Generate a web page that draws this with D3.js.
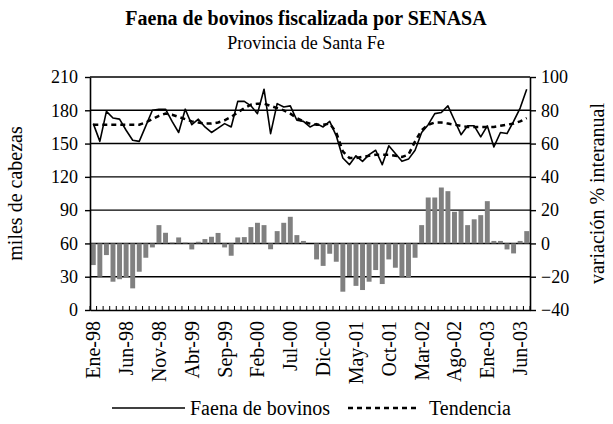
<!DOCTYPE html>
<html>
<head>
<meta charset="utf-8">
<script src="https://cdn.jsdelivr.net/npm/d3@7"></script>
<style>
  body { margin: 0; background: #fff; }
  svg text { font-family: "Liberation Serif", serif !important; fill: #000; }
</style>
</head>
<body>
<div id="chart"></div>
<script>
// meses Ene-98 .. Jul-03
const mesesAbr = ["Ene","Feb","Mar","Abr","May","Jun","Jul","Ago","Sep","Oct","Nov","Dic"];
const months = d3.range(67).map(i => mesesAbr[i % 12] + "-" + String((98 + Math.floor(i / 12)) % 100).padStart(2, "0"));
const tickLabels = ["Ene-98","Jun-98","Nov-98","Abr-99","Sep-99","Feb-00","Jul-00","Dic-00","May-01","Oct-01","Mar-02","Ago-02","Ene-03","Jun-03"];

// miles de cabezas
const faena = [168,152,179,173,172,162,153,152,166,180,181,181,170,160,181,167,172,165,160,164,
  168,165,188,188,184,177,199,159,186,183,184,171,170,165,168,165,170,157,137,131,
  139,134,140,144,131,148,141,134,136,144,160,167,177,178,184,171,158,166,166,156,
  166,147,160,159,170,182,199];
const tendencia = [167,167,167,167,167,167,167,167,169,172,175,177,176,174,172,170,169,168,168,169,
  171,174,178,182,185,186,186,184,182,180,177,173,170,168,167,167,168,160,143,137,
  137,138,139,140,140,140,139,138,140,152,162,167,169,169,168,167,166,165,165,165,
  165,165,166,167,168,170,173];
// variacion % interanual
const variacion = [-13,-20,-7,-23,-21.5,-20.5,-27,-17,-8.6,-2.4,11,6.4,0.5,3.6,0.5,-3.6,1,2.6,4,6.3,
  -2.4,-7.4,3.6,3.8,9.8,12.4,11,-3.5,7.4,12.4,16,5,1.5,0,-9.6,-13.5,-6.2,-11,-29,-19.6,
  -25.5,-28,-23,-16,-24.4,-9.6,-14.6,-20,-20.6,-8.6,11,27.6,27.6,33.6,31.4,19,19.5,11,14.5,17,
  25.4,1.5,1.5,-3.6,-6,1.5,7.4];

const width = 613, height = 424;
const mLeft = 90, mRight = 530, mTop = 77, mBottom = 310;
const serif = "'Liberation Serif', serif";

const svg = d3.select("#chart").append("svg")
  .attr("width", width)
  .attr("height", height)
  .attr("font-family", serif);

const x = d3.scaleBand().domain(months).range([mLeft, mRight]).paddingInner(0.25).paddingOuter(0.125);
const xc = d => x(d) + x.bandwidth() / 2;
const y = d3.scaleLinear().domain([0, 210]).range([mBottom, mTop]);
const y2 = d3.scaleLinear().domain([-40, 100]).range([mBottom, mTop]);

// gridlines
svg.append("g")
  .selectAll("line")
  .data(d3.range(30, 211, 30))
  .join("line")
  .attr("x1", mLeft).attr("x2", mRight)
  .attr("y1", d => y(d)).attr("y2", d => y(d))
  .attr("stroke", "#000").attr("stroke-width", 1.4);

// bars (variacion)
svg.append("g")
  .selectAll("rect")
  .data(variacion)
  .join("rect")
  .attr("x", (d, i) => x(months[i]))
  .attr("width", x.bandwidth())
  .attr("y", d => y2(Math.max(0, d)))
  .attr("height", d => Math.abs(y2(d) - y2(0)))
  .attr("fill", "#808080");

// axes
const yAxis = d3.axisLeft(y).tickValues(d3.range(0, 211, 30)).tickSize(5).tickSizeOuter(0);
const gy = svg.append("g").attr("transform", `translate(${mLeft},0)`).call(yAxis);
const y2Axis = d3.axisRight(y2).tickValues(d3.range(-40, 101, 20)).tickSize(6).tickSizeOuter(0);
const gy2 = svg.append("g").attr("transform", `translate(${mRight},0)`).call(y2Axis);
[gy, gy2].forEach(g => {
  g.attr("font-family", serif);
  g.select(".domain").attr("stroke-width", 1.6);
  g.selectAll(".tick line").attr("stroke-width", 1.4);
  g.selectAll(".tick text").attr("font-size", 18).style("font-family", serif);
});
gy.selectAll(".tick text").attr("x", -12);
gy2.selectAll(".tick text").attr("x", 11);

const xAxis = d3.axisBottom(x).tickSize(0).tickFormat(d => tickLabels.includes(d) ? d : "");
const gx = svg.append("g").attr("transform", `translate(0,${mBottom})`).call(xAxis);
gx.attr("font-family", serif);
gx.select(".domain").attr("stroke-width", 1.6);
gx.selectAll(".tick text")
  .attr("font-size", 20)
  .style("font-family", serif)
  .attr("transform", "rotate(-90)")
  .attr("text-anchor", "end")
  .attr("x", -11)
  .attr("y", 0)
  .attr("dy", "0.35em");

// small month ticks
svg.append("g")
  .selectAll("line")
  .data(d3.range(months.length + 1))
  .join("line")
  .attr("x1", i => mLeft + i * x.step()).attr("x2", i => mLeft + i * x.step())
  .attr("y1", mBottom - 4).attr("y2", mBottom + 1)
  .attr("stroke", "#000").attr("stroke-width", 1);

// lines
const line = d3.line().x((d, i) => xc(months[i])).y(d => y(d));
svg.append("path")
  .datum(tendencia)
  .attr("d", line)
  .attr("fill", "none")
  .attr("stroke", "#000")
  .attr("stroke-width", 2.5)
  .attr("stroke-dasharray", "5,4");
svg.append("path")
  .datum(faena)
  .attr("d", line)
  .attr("fill", "none")
  .attr("stroke", "#000")
  .attr("stroke-width", 1.6)
  .attr("stroke-linejoin", "round");

// titles
svg.append("text")
  .attr("x", 306).attr("y", 25)
  .attr("text-anchor", "middle")
  .attr("font-size", 20).attr("font-weight", "bold")
  .text("Faena de bovinos fiscalizada por SENASA");
svg.append("text")
  .attr("x", 306).attr("y", 49)
  .attr("text-anchor", "middle")
  .attr("font-size", 18)
  .text("Provincia de Santa Fe");

svg.append("text")
  .attr("transform", `translate(22,${(mTop + mBottom) / 2}) rotate(-90)`)
  .attr("text-anchor", "middle")
  .attr("font-size", 20)
  .text("miles de cabezas");
svg.append("text")
  .attr("transform", `translate(604,${(mTop + mBottom) / 2}) rotate(-90)`)
  .attr("text-anchor", "middle")
  .attr("font-size", 20)
  .text("variación % interanual");

// legend
const lg = svg.append("g").attr("transform", "translate(0,408)");
lg.append("line").attr("x1", 112).attr("x2", 185).attr("stroke", "#000").attr("stroke-width", 1.6);
lg.append("text").attr("x", 190).attr("y", 0).attr("dy", "0.35em").attr("font-size", 20).text("Faena de bovinos");
lg.append("line").attr("x1", 348).attr("x2", 420).attr("stroke", "#000").attr("stroke-width", 2.5).attr("stroke-dasharray", "5,4");
lg.append("text").attr("x", 429).attr("y", 0).attr("dy", "0.35em").attr("font-size", 20).text("Tendencia");
</script>
</body>
</html>
